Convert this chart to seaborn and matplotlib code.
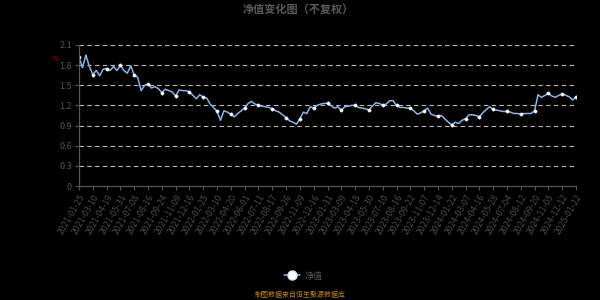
import matplotlib
matplotlib.use("Agg")
import matplotlib.pyplot as plt
from matplotlib.lines import Line2D
import seaborn as sns
import pandas as pd
import numpy as np

# ---- data ----
tick_labels = [
    "2021-01-25", "2021-03-10", "2021-04-19", "2021-05-31", "2021-07-08", "2021-08-16",
    "2021-09-24", "2021-11-09", "2021-12-16", "2022-01-25", "2022-03-10", "2022-04-20",
    "2022-06-01", "2022-07-11", "2022-08-17", "2022-09-26", "2022-11-09", "2022-12-16",
    "2023-01-31", "2023-03-09", "2023-04-18", "2023-05-30", "2023-07-10", "2023-08-16",
    "2023-09-22", "2023-11-07", "2023-12-14", "2024-01-22", "2024-03-07", "2024-04-16",
    "2024-05-28", "2024-07-04", "2024-08-12", "2024-09-20", "2024-11-05", "2024-12-12",
    "2025-01-22",
]
points_per_tick = 4

nav = [
    1.92, 1.76, 1.95, 1.78,
    1.66, 1.72, 1.64, 1.74,
    1.75, 1.72, 1.78, 1.72,
    1.80, 1.72, 1.68, 1.79,
    1.65, 1.62, 1.42, 1.50,
    1.52, 1.46, 1.48, 1.45,
    1.39, 1.44, 1.42, 1.40,
    1.34, 1.43, 1.42, 1.42,
    1.40, 1.35, 1.30, 1.36,
    1.32, 1.31, 1.22, 1.17,
    1.11, 0.98, 1.12, 1.10,
    1.07, 1.03, 1.08, 1.12,
    1.16, 1.23, 1.26, 1.22,
    1.20, 1.19, 1.18, 1.17,
    1.15, 1.12, 1.10, 1.06,
    1.02, 0.97, 0.95, 0.92,
    1.00, 1.10, 1.08, 1.18,
    1.16, 1.20, 1.22, 1.23,
    1.23, 1.20, 1.16, 1.18,
    1.13, 1.18, 1.19, 1.20,
    1.20, 1.17, 1.16, 1.15,
    1.13, 1.19, 1.24, 1.23,
    1.20, 1.22, 1.27, 1.27,
    1.20, 1.17, 1.17, 1.16,
    1.16, 1.12, 1.07, 1.09,
    1.12, 1.16, 1.07, 1.05,
    1.04, 1.05, 1.00, 0.95,
    0.91, 0.95, 0.93, 0.98,
    1.00, 1.06, 1.06, 1.05,
    1.03, 1.09, 1.14, 1.18,
    1.14, 1.13, 1.12, 1.11,
    1.11, 1.10, 1.08, 1.08,
    1.07, 1.08, 1.08, 1.08,
    1.12, 1.36, 1.32, 1.35,
    1.38, 1.34, 1.32, 1.35,
    1.37, 1.35, 1.33, 1.28,
    1.33,
]
y_ticks = [0, 0.3, 0.6, 0.9, 1.2, 1.5, 1.8, 2.1]
y_tick_labels = ["0", "0.3", "0.6", "0.9", "1.2", "1.5", "1.8", "2.1"]

df = pd.DataFrame({"idx": np.arange(len(nav)), "nav": nav})

# ---- style ----
sns.set_theme(style="dark")
plt.rcParams["font.family"] = ["Noto Sans CJK SC", "DejaVu Sans"]

fig = plt.figure(figsize=(6, 3), dpi=100, facecolor="black")
ax = fig.add_axes([79 / 600, 1 - 186 / 300, (576 - 79) / 600, (186 - 45) / 300])
ax.set_facecolor("black")

line_color = "#8db4e2"
sns.lineplot(data=df, x="idx", y="nav", ax=ax, color=line_color, linewidth=1.1,
             marker="o", markevery=points_per_tick, markersize=2.4,
             markerfacecolor="white", markeredgecolor="#dce8f7", markeredgewidth=0.3,
             legend=False)

ax.set_xlim(0, len(nav) - 1)
ax.set_ylim(0, 2.1)
ax.set_xlabel("")
ax.set_ylabel("")

ax.set_yticks(y_ticks)
ax.set_yticklabels(y_tick_labels, color="#555555", fontsize=6.5)
xt = [i * points_per_tick for i in range(len(tick_labels))]
ax.set_xticks(xt)
ax.set_xticklabels(tick_labels, rotation=60, ha="right", rotation_mode="anchor",
                   color="#4a4a4a", fontsize=6.3)

ax.tick_params(axis="both", which="both", length=3, width=0.8, color="#555555", pad=2,
               bottom=True, left=True)
ax.grid(False)
for y in y_ticks[1:]:
    ax.axhline(y, color="#bbbbbb", linewidth=0.8, linestyle=(0, (4, 3)), zorder=0)

for side in ["top", "right"]:
    ax.spines[side].set_visible(False)
for side in ["left", "bottom"]:
    ax.spines[side].set_visible(True)
    ax.spines[side].set_color("#555555")
    ax.spines[side].set_linewidth(0.9)

# title
fig.text(0.497, 1 - 9 / 300, "净值变化图（不复权）", ha="center", va="center",
         color="#5a5a5a", fontsize=8, fontweight="bold")
# axis unit
fig.text(55 / 600, 1 - 60 / 300, "元", ha="center", va="center", color="#8b0000", fontsize=4.5)

# legend
handle = Line2D([0], [0], color=line_color, linewidth=1.1, marker="o", markersize=6.5,
                markerfacecolor="white", markeredgecolor="#dce8f7")
leg = fig.legend([handle], ["净值"], loc="center", bbox_to_anchor=(0.505, 1 - 276 / 300),
                 frameon=False, fontsize=6.5, handlelength=1.8, handletextpad=0.5)
for t in leg.get_texts():
    t.set_color("#555555")

# source
fig.text(0.5, 1 - 295 / 300, "制图数据来自恒生聚源数据库", ha="center", va="center",
         color="#b8860b", fontsize=5)

fig.savefig("out.png", dpi=100, facecolor="black")
